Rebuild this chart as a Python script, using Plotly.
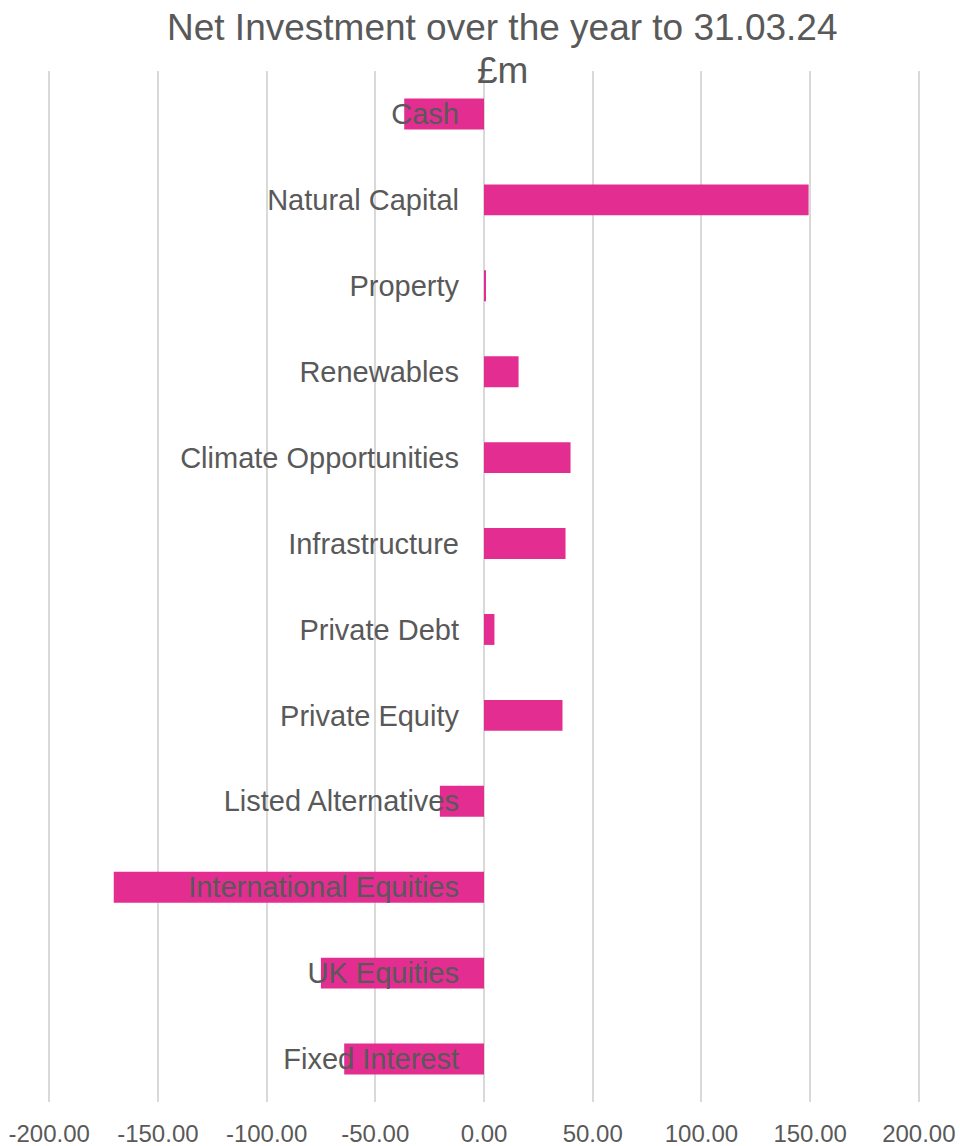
import plotly.graph_objects as go

categories = ["Fixed Interest", "UK Equities", "International Equities", "Listed Alternatives",
              "Private Equity", "Private Debt", "Infrastructure", "Climate Opportunities",
              "Renewables", "Property", "Natural Capital", "Cash"]
net_investment = [-64.3, -75.0, -170.3, -20.3, 36.1, 4.8, 37.5, 39.8, 15.9, 0.8, 149.3, -36.7]
x_ticks = [-200, -150, -100, -50, 0, 50, 100, 150, 200]
x_tick_labels = ["-200.00", "-150.00", "-100.00", "-50.00", "0.00", "50.00", "100.00", "150.00", "200.00"]
title_lines = ["Net Investment over the year to 31.03.24", "£m"]

FONT = "Liberation Sans, Arial, sans-serif"
GREY = "#595959"

fig = go.Figure(go.Bar(
    y=categories, x=net_investment, orientation="h",
    marker=dict(color="#E32D91", line=dict(width=0)),
))

fig.update_layout(
    width=960, height=1146,
    margin=dict(l=47, r=39, t=71, b=44, autoexpand=False),
    paper_bgcolor="white", plot_bgcolor="white",
    bargap=0.64,
    showlegend=False,
    font=dict(family=FONT, color=GREY),
    xaxis=dict(range=[-201, 201], tickvals=x_ticks, ticktext=x_tick_labels,
               showgrid=True, gridcolor="#D9D9D9", gridwidth=1.5,
               zeroline=False, showline=False, automargin=False,
               tickfont=dict(size=24, color=GREY, family=FONT),
               ticks="", ticklabelstandoff=15),
    yaxis=dict(categoryorder="array", categoryarray=categories,
               anchor="free", position=0.5, showgrid=False, zeroline=False,
               showline=False, ticks="", automargin=False,
               tickfont=dict(size=29, color=GREY, family=FONT),
               ticklabelstandoff=25, layer="above traces"),
)

for line, shift in zip(title_lines, [44, 1]):
    fig.add_annotation(text=line, xref="paper", yref="paper", x=0.5206, y=1,
                       xanchor="center", yanchor="middle", yshift=shift,
                       showarrow=False, font=dict(size=37, color=GREY, family=FONT))

fig.write_html("out.html", config={"displayModeBar": False},
               post_script="document.body.style.margin='0';document.body.style.overflow='hidden';")
